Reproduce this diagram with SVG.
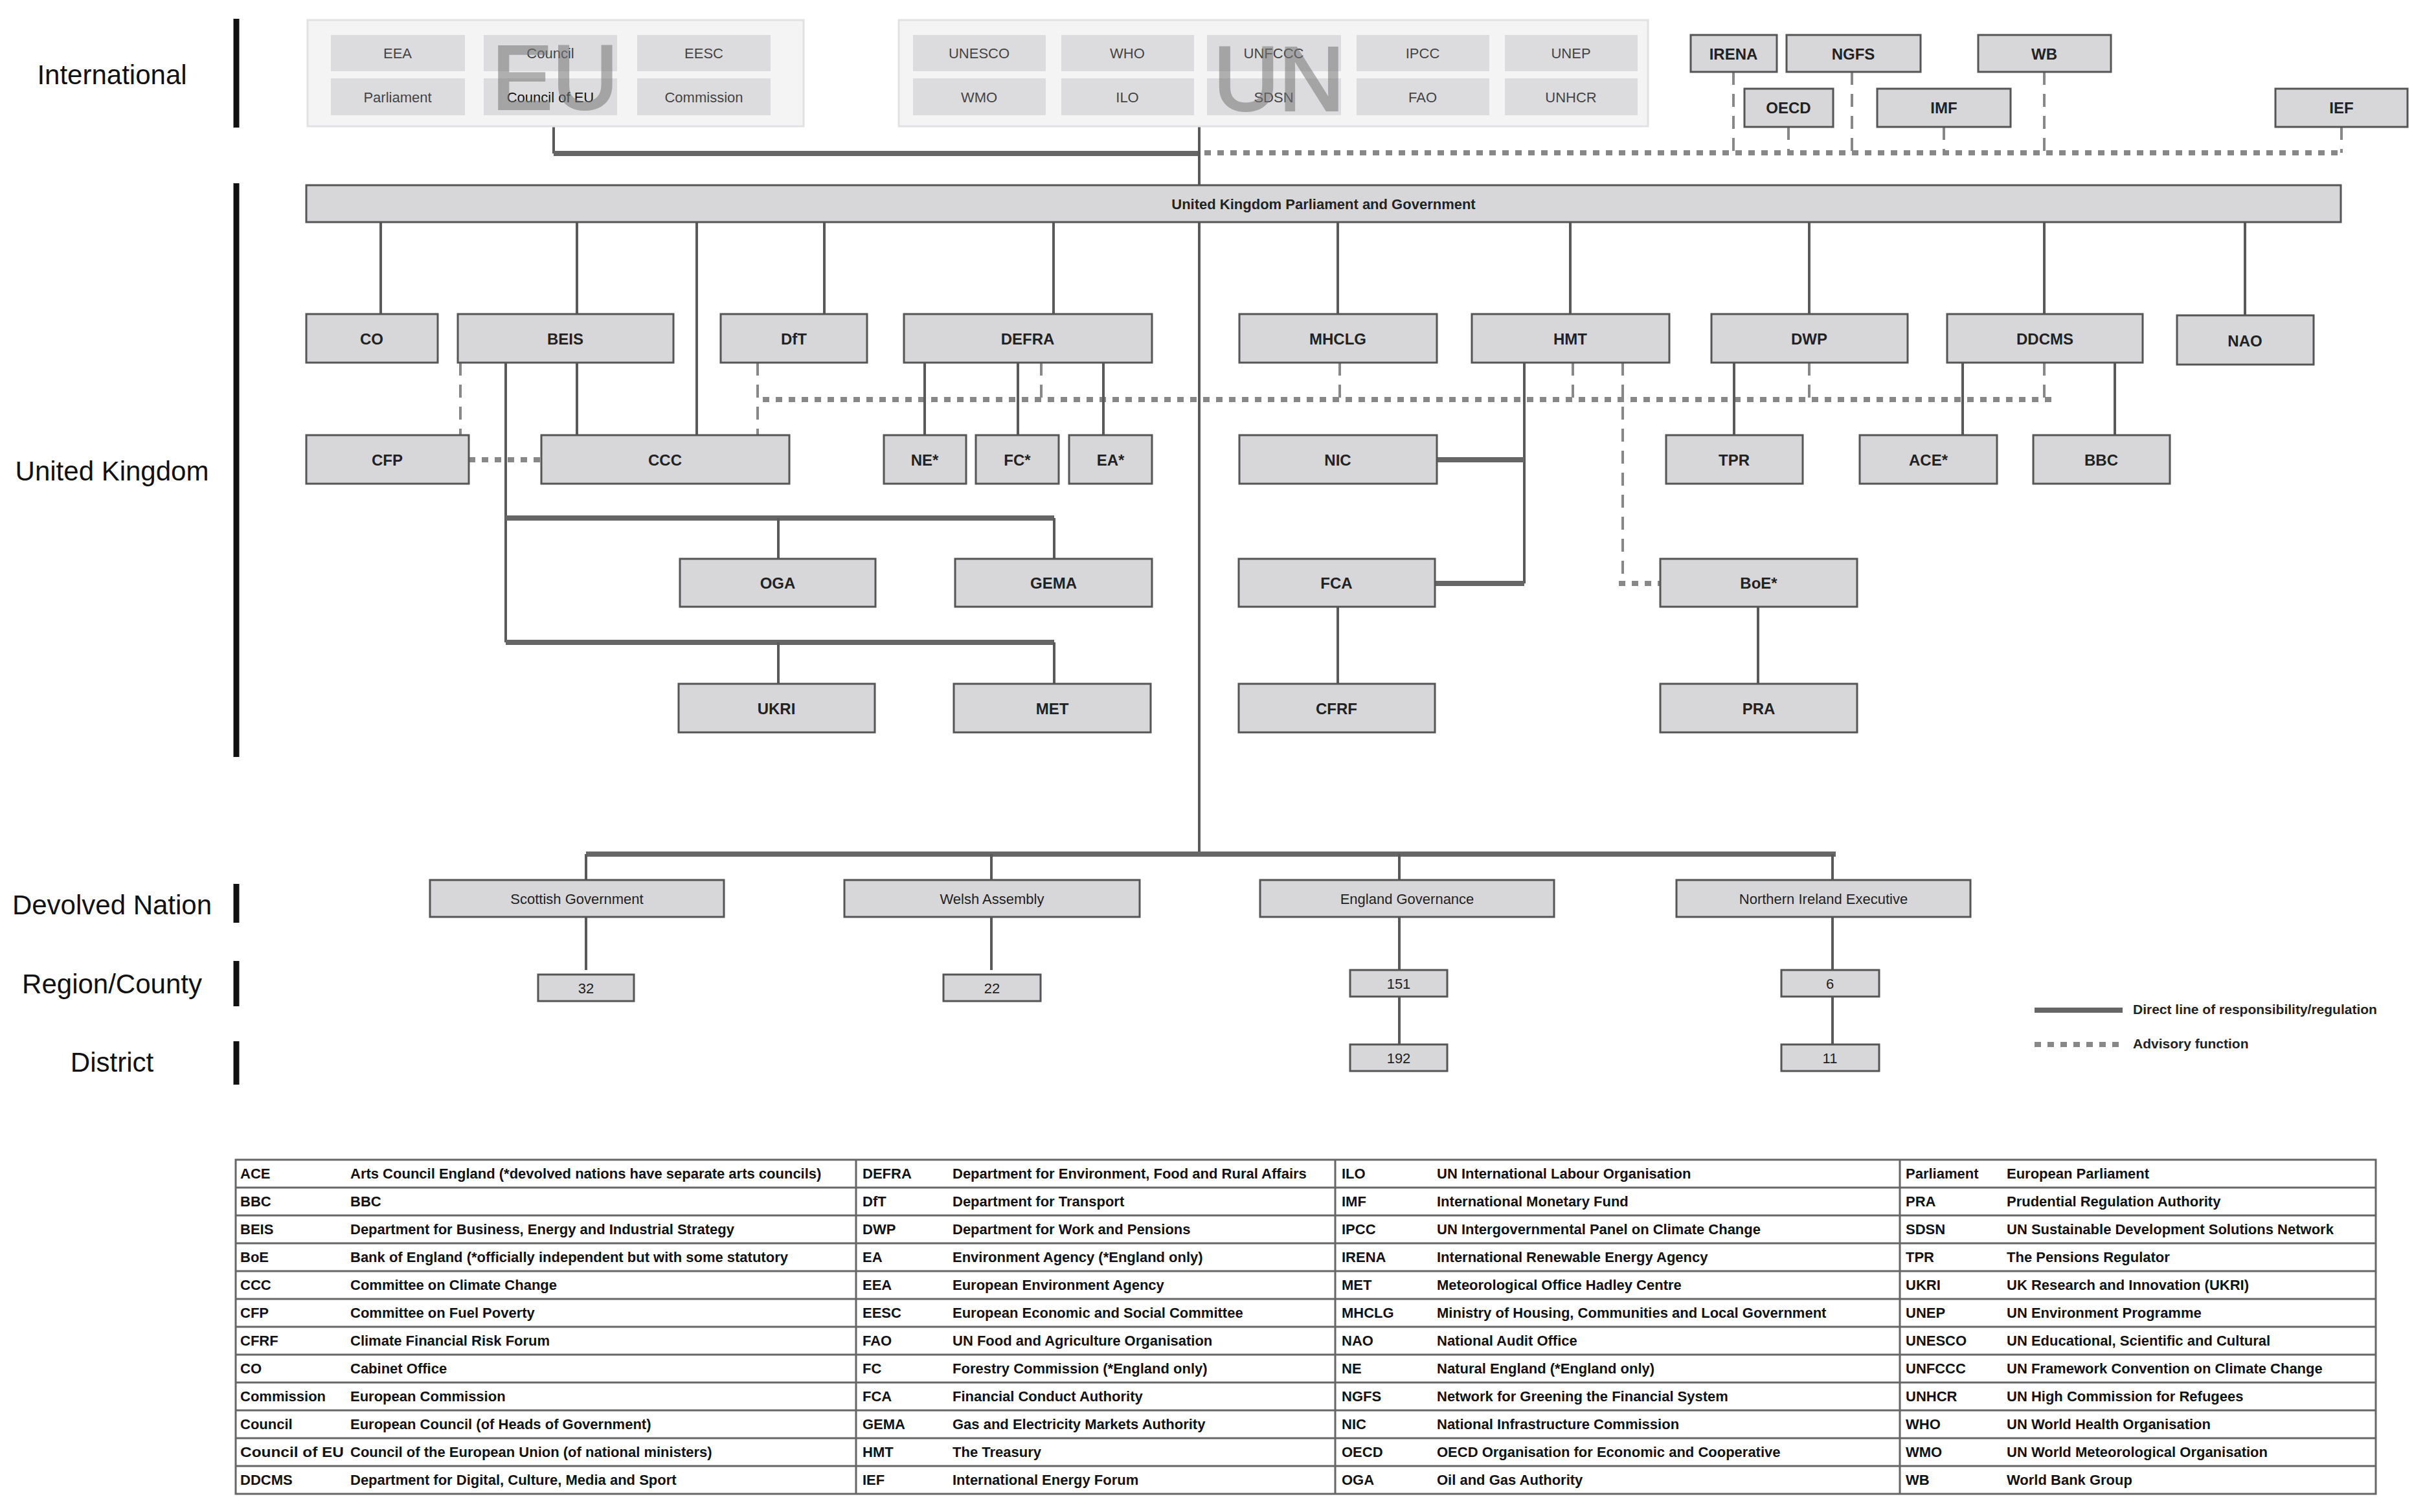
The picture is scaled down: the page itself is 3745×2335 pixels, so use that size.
<svg xmlns="http://www.w3.org/2000/svg" width="3745" height="2335" viewBox="0 0 3745 2335">
<style>
text{font-family:"Liberation Sans",Arial,sans-serif;}
.side{font-size:42px;fill:#111;text-anchor:middle;dominant-baseline:central}
.sbar{stroke:#111;stroke-width:9}
.box{fill:#d7d7d9;stroke:#555;stroke-width:3}
.cell{fill:#dcdcde}
.cont{fill:#f4f4f5;stroke:#e2e2e4;stroke-width:3}
.lbl{font-size:24px;font-weight:bold;fill:#222;text-anchor:middle;dominant-baseline:central}
.clbl{font-size:22px;fill:#444;text-anchor:middle;dominant-baseline:central}
.dlbl{font-size:22px;fill:#222;text-anchor:middle;dominant-baseline:central}
.big{font-size:140px;fill:#777;opacity:.55;text-anchor:middle;stroke:#777;stroke-width:4}
.s{stroke:#595959;stroke-width:4;fill:none}
.t{stroke:#666;stroke-width:8;fill:none}
.d{stroke:#888;stroke-width:4;stroke-dasharray:20 14;fill:none}
.dot{stroke:#888;stroke-width:8;stroke-dasharray:10 10;fill:none}
.tb{font-size:22px;font-weight:bold;fill:#111}
.grid{stroke:#666;stroke-width:3;fill:none}
.leg{font-size:21px;font-weight:bold;fill:#222;dominant-baseline:central}
</style>
<rect width="3745" height="2335" fill="#fff"/>
<g id="side-labels">
<text class="side" x="173" y="115">International</text>
<line class="sbar" x1="365" y1="29" x2="365" y2="197"/>
<text class="side" x="173" y="727">United Kingdom</text>
<line class="sbar" x1="365" y1="283" x2="365" y2="1169"/>
<text class="side" x="173" y="1397">Devolved Nation</text>
<line class="sbar" x1="365" y1="1365" x2="365" y2="1425"/>
<text class="side" x="173" y="1519">Region/County</text>
<line class="sbar" x1="365" y1="1484" x2="365" y2="1554"/>
<text class="side" x="173" y="1640">District</text>
<line class="sbar" x1="365" y1="1608" x2="365" y2="1675"/>
</g>
<g id="connectors">
<polyline class="s" points="855,195 855,237"/>
<line class="t" x1="855" y1="237" x2="1852" y2="237"/>
<line class="s" x1="1852" y1="195" x2="1852" y2="286"/>
<line class="dot" x1="1860" y1="236" x2="3616" y2="236"/>
<line class="d" x1="2677" y1="111" x2="2677" y2="236"/>
<line class="d" x1="2762" y1="196" x2="2762" y2="236"/>
<line class="d" x1="2860" y1="111" x2="2860" y2="236"/>
<line class="d" x1="3002" y1="196" x2="3002" y2="236"/>
<line class="d" x1="3157" y1="111" x2="3157" y2="236"/>
<line class="d" x1="3616" y1="196" x2="3616" y2="236"/>
<line class="s" x1="588" y1="343" x2="588" y2="485"/>
<line class="s" x1="891" y1="343" x2="891" y2="485"/>
<line class="s" x1="1076" y1="343" x2="1076" y2="672"/>
<line class="s" x1="1273" y1="343" x2="1273" y2="485"/>
<line class="s" x1="1627" y1="343" x2="1627" y2="485"/>
<line class="s" x1="1852" y1="343" x2="1852" y2="1319"/>
<line class="s" x1="2066" y1="343" x2="2066" y2="485"/>
<line class="s" x1="2425" y1="343" x2="2425" y2="485"/>
<line class="s" x1="2794" y1="343" x2="2794" y2="485"/>
<line class="s" x1="3157" y1="343" x2="3157" y2="485"/>
<line class="s" x1="3467" y1="343" x2="3467" y2="487"/>
<line class="d" x1="711" y1="560" x2="711" y2="672"/>
<line class="s" x1="891" y1="560" x2="891" y2="672"/>
<polyline class="s" points="781,560 781,992"/>
<line class="t" x1="781" y1="800" x2="1628" y2="800"/>
<line class="s" x1="1202" y1="800" x2="1202" y2="863"/>
<line class="s" x1="1628" y1="800" x2="1628" y2="863"/>
<line class="t" x1="781" y1="992" x2="1628" y2="992"/>
<line class="s" x1="1202" y1="992" x2="1202" y2="1056"/>
<line class="s" x1="1628" y1="992" x2="1628" y2="1056"/>
<line class="dot" x1="724" y1="710" x2="836" y2="710"/>
<line class="d" x1="1170" y1="560" x2="1170" y2="672"/>
<line class="dot" x1="1178" y1="617" x2="3170" y2="617"/>
<line class="s" x1="1428" y1="560" x2="1428" y2="672"/>
<line class="s" x1="1572" y1="560" x2="1572" y2="672"/>
<line class="d" x1="1608" y1="560" x2="1608" y2="617"/>
<line class="s" x1="1704" y1="560" x2="1704" y2="672"/>
<line class="d" x1="2069" y1="560" x2="2069" y2="617"/>
<line class="s" x1="2354" y1="560" x2="2354" y2="901"/>
<line class="t" x1="2219" y1="710" x2="2354" y2="710"/>
<line class="t" x1="2216" y1="901" x2="2354" y2="901"/>
<line class="d" x1="2429" y1="560" x2="2429" y2="617"/>
<polyline class="d" points="2506,560 2506,901"/>
<line class="dot" x1="2500" y1="901" x2="2564" y2="901"/>
<line class="s" x1="2066" y1="937" x2="2066" y2="1056"/>
<line class="s" x1="2715" y1="937" x2="2715" y2="1056"/>
<line class="s" x1="2678" y1="560" x2="2678" y2="672"/>
<line class="d" x1="2794" y1="560" x2="2794" y2="617"/>
<line class="s" x1="3031" y1="560" x2="3031" y2="672"/>
<line class="d" x1="3157" y1="560" x2="3157" y2="617"/>
<line class="s" x1="3266" y1="560" x2="3266" y2="672"/>
<line class="t" x1="905" y1="1319" x2="2835" y2="1319"/>
<line class="s" x1="905" y1="1319" x2="905" y2="1359"/>
<line class="s" x1="1531" y1="1319" x2="1531" y2="1359"/>
<line class="s" x1="2161" y1="1319" x2="2161" y2="1359"/>
<line class="s" x1="2830" y1="1319" x2="2830" y2="1359"/>
<line class="s" x1="905" y1="1416" x2="905" y2="1498"/>
<line class="s" x1="1531" y1="1416" x2="1531" y2="1498"/>
<line class="s" x1="2161" y1="1416" x2="2161" y2="1613"/>
<line class="s" x1="2830" y1="1416" x2="2830" y2="1613"/>
</g>
<g id="EU">
<rect class="cont" x="475" y="31" width="766" height="164"/>
<rect class="cell" x="511" y="54" width="207" height="56"/><text class="clbl" x="614" y="82">EEA</text>
<rect class="cell" x="747" y="54" width="206" height="56"/><text class="clbl" x="850" y="82">Council</text>
<rect class="cell" x="984" y="54" width="206" height="56"/><text class="clbl" x="1087" y="82">EESC</text>
<rect class="cell" x="511" y="121" width="207" height="57"/><text class="clbl" x="614" y="150">Parliament</text>
<rect class="cell" x="747" y="121" width="206" height="57"/><text class="clbl" x="850" y="150" style="fill:#111">Council of EU</text>
<rect class="cell" x="984" y="121" width="206" height="57"/><text class="clbl" x="1087" y="150">Commission</text>
<text class="big" x="857" y="168">EU</text>
</g>
<g id="UN">
<rect class="cont" x="1388" y="31" width="1157" height="164"/>
<rect class="cell" x="1410" y="54" width="205" height="56"/><text class="clbl" x="1512" y="82">UNESCO</text>
<rect class="cell" x="1639" y="54" width="205" height="56"/><text class="clbl" x="1741" y="82">WHO</text>
<rect class="cell" x="1864" y="54" width="207" height="56"/><text class="clbl" x="1967" y="82">UNFCCC</text>
<rect class="cell" x="2095" y="54" width="205" height="56"/><text class="clbl" x="2197" y="82">IPCC</text>
<rect class="cell" x="2324" y="54" width="205" height="56"/><text class="clbl" x="2426" y="82">UNEP</text>
<rect class="cell" x="1410" y="121" width="205" height="57"/><text class="clbl" x="1512" y="150">WMO</text>
<rect class="cell" x="1639" y="121" width="205" height="57"/><text class="clbl" x="1741" y="150">ILO</text>
<rect class="cell" x="1864" y="121" width="207" height="57"/><text class="clbl" x="1967" y="150">SDSN</text>
<rect class="cell" x="2095" y="121" width="205" height="57"/><text class="clbl" x="2197" y="150">FAO</text>
<rect class="cell" x="2324" y="121" width="205" height="57"/><text class="clbl" x="2426" y="150">UNHCR</text>
<text class="big" x="1975" y="170">UN</text>
</g>
<g id="IRENA"><rect class="box" x="2611" y="54" width="133" height="57"/><text class="lbl" x="2677" y="83">IRENA</text></g>
<g id="NGFS"><rect class="box" x="2759" y="54" width="207" height="57"/><text class="lbl" x="2862" y="83">NGFS</text></g>
<g id="WB"><rect class="box" x="3055" y="54" width="205" height="57"/><text class="lbl" x="3157" y="83">WB</text></g>
<g id="OECD"><rect class="box" x="2694" y="137" width="137" height="59"/><text class="lbl" x="2762" y="166">OECD</text></g>
<g id="IMF"><rect class="box" x="2899" y="137" width="206" height="59"/><text class="lbl" x="3002" y="166">IMF</text></g>
<g id="IEF"><rect class="box" x="3514" y="137" width="204" height="59"/><text class="lbl" x="3616" y="166">IEF</text></g>
<g id="UKGov"><rect class="box" x="473" y="286" width="3142" height="57"/><text class="lbl" x="2044" y="315" style="font-size:22px">United Kingdom Parliament and Government</text></g>
<g id="CO"><rect class="box" x="473" y="485" width="203" height="75"/><text class="lbl" x="574" y="523">CO</text></g>
<g id="BEIS"><rect class="box" x="707" y="485" width="333" height="75"/><text class="lbl" x="873" y="523">BEIS</text></g>
<g id="DfT"><rect class="box" x="1113" y="485" width="226" height="75"/><text class="lbl" x="1226" y="523">DfT</text></g>
<g id="DEFRA"><rect class="box" x="1396" y="485" width="383" height="75"/><text class="lbl" x="1587" y="523">DEFRA</text></g>
<g id="MHCLG"><rect class="box" x="1914" y="485" width="305" height="75"/><text class="lbl" x="2066" y="523">MHCLG</text></g>
<g id="HMT"><rect class="box" x="2273" y="485" width="305" height="75"/><text class="lbl" x="2425" y="523">HMT</text></g>
<g id="DWP"><rect class="box" x="2643" y="485" width="303" height="75"/><text class="lbl" x="2794" y="523">DWP</text></g>
<g id="DDCMS"><rect class="box" x="3007" y="485" width="302" height="75"/><text class="lbl" x="3158" y="523">DDCMS</text></g>
<g id="NAO"><rect class="box" x="3362" y="487" width="211" height="76"/><text class="lbl" x="3467" y="526">NAO</text></g>
<g id="CFP"><rect class="box" x="473" y="672" width="251" height="75"/><text class="lbl" x="598" y="710">CFP</text></g>
<g id="CCC"><rect class="box" x="836" y="672" width="383" height="75"/><text class="lbl" x="1027" y="710">CCC</text></g>
<g id="NE"><rect class="box" x="1365" y="672" width="127" height="75"/><text class="lbl" x="1428" y="710">NE*</text></g>
<g id="FC"><rect class="box" x="1507" y="672" width="128" height="75"/><text class="lbl" x="1571" y="710">FC*</text></g>
<g id="EA"><rect class="box" x="1651" y="672" width="128" height="75"/><text class="lbl" x="1715" y="710">EA*</text></g>
<g id="NIC"><rect class="box" x="1914" y="672" width="305" height="75"/><text class="lbl" x="2066" y="710">NIC</text></g>
<g id="TPR"><rect class="box" x="2573" y="672" width="211" height="75"/><text class="lbl" x="2678" y="710">TPR</text></g>
<g id="ACE"><rect class="box" x="2872" y="672" width="212" height="75"/><text class="lbl" x="2978" y="710">ACE*</text></g>
<g id="BBC"><rect class="box" x="3140" y="672" width="211" height="75"/><text class="lbl" x="3245" y="710">BBC</text></g>
<g id="OGA"><rect class="box" x="1050" y="863" width="302" height="74"/><text class="lbl" x="1201" y="900">OGA</text></g>
<g id="GEMA"><rect class="box" x="1475" y="863" width="304" height="74"/><text class="lbl" x="1627" y="900">GEMA</text></g>
<g id="FCA"><rect class="box" x="1913" y="863" width="303" height="74"/><text class="lbl" x="2064" y="900">FCA</text></g>
<g id="BoE"><rect class="box" x="2564" y="863" width="304" height="74"/><text class="lbl" x="2716" y="900">BoE*</text></g>
<g id="UKRI"><rect class="box" x="1048" y="1056" width="303" height="75"/><text class="lbl" x="1199" y="1094">UKRI</text></g>
<g id="MET"><rect class="box" x="1473" y="1056" width="304" height="75"/><text class="lbl" x="1625" y="1094">MET</text></g>
<g id="CFRF"><rect class="box" x="1913" y="1056" width="303" height="75"/><text class="lbl" x="2064" y="1094">CFRF</text></g>
<g id="PRA"><rect class="box" x="2564" y="1056" width="304" height="75"/><text class="lbl" x="2716" y="1094">PRA</text></g>
<g id="Scotland"><rect class="box" x="664" y="1359" width="454" height="57"/><text class="dlbl" x="891" y="1388">Scottish Government</text></g>
<g id="Wales"><rect class="box" x="1304" y="1359" width="456" height="57"/><text class="dlbl" x="1532" y="1388">Welsh Assembly</text></g>
<g id="England"><rect class="box" x="1946" y="1359" width="454" height="57"/><text class="dlbl" x="2173" y="1388">England Governance</text></g>
<g id="NI"><rect class="box" x="2589" y="1359" width="454" height="57"/><text class="dlbl" x="2816" y="1388">Northern Ireland Executive</text></g>
<g id="n32"><rect class="box" x="831" y="1505" width="148" height="41"/><text class="dlbl" x="905" y="1526">32</text></g>
<g id="n22"><rect class="box" x="1457" y="1505" width="150" height="41"/><text class="dlbl" x="1532" y="1526">22</text></g>
<g id="n151"><rect class="box" x="2085" y="1498" width="150" height="41"/><text class="dlbl" x="2160" y="1519">151</text></g>
<g id="n6"><rect class="box" x="2751" y="1498" width="151" height="41"/><text class="dlbl" x="2826" y="1519">6</text></g>
<g id="n192"><rect class="box" x="2085" y="1613" width="150" height="41"/><text class="dlbl" x="2160" y="1634">192</text></g>
<g id="n11"><rect class="box" x="2751" y="1613" width="151" height="41"/><text class="dlbl" x="2826" y="1634">11</text></g>
<g id="legend">
<line class="t" x1="3142" y1="1560" x2="3278" y2="1560"/>
<text class="leg" x="3294" y="1558">Direct line of responsibility/regulation</text>
<line class="dot" x1="3142" y1="1613" x2="3278" y2="1613"/>
<text class="leg" x="3294" y="1611">Advisory function</text>
</g>
<g id="table">
<rect class="grid" x="364" y="1791" width="3305" height="516"/>
<g class="grid">
<line x1="1322" y1="1791" x2="1322" y2="2307"/><line x1="2062" y1="1791" x2="2062" y2="2307"/><line x1="2934" y1="1791" x2="2934" y2="2307"/>
<line x1="364" y1="1834" x2="3669" y2="1834"/><line x1="364" y1="1877" x2="3669" y2="1877"/><line x1="364" y1="1920" x2="3669" y2="1920"/><line x1="364" y1="1963" x2="3669" y2="1963"/><line x1="364" y1="2006" x2="3669" y2="2006"/><line x1="364" y1="2049" x2="3669" y2="2049"/><line x1="364" y1="2092" x2="3669" y2="2092"/><line x1="364" y1="2135" x2="3669" y2="2135"/><line x1="364" y1="2178" x2="3669" y2="2178"/><line x1="364" y1="2221" x2="3669" y2="2221"/><line x1="364" y1="2264" x2="3669" y2="2264"/>
</g>
<g class="tb">
<text x="371" y="1820">ACE</text><text x="541" y="1820">Arts Council England  (*devolved nations have separate arts councils)</text>
<text x="371" y="1863">BBC</text><text x="541" y="1863">BBC</text>
<text x="371" y="1906">BEIS</text><text x="541" y="1906">Department for Business, Energy and Industrial Strategy</text>
<text x="371" y="1949">BoE</text><text x="541" y="1949">Bank of England (*officially independent but with some statutory</text>
<text x="371" y="1992">CCC</text><text x="541" y="1992">Committee on Climate Change</text>
<text x="371" y="2035">CFP</text><text x="541" y="2035">Committee on Fuel Poverty</text>
<text x="371" y="2078">CFRF</text><text x="541" y="2078">Climate Financial Risk Forum</text>
<text x="371" y="2121">CO</text><text x="541" y="2121">Cabinet Office</text>
<text x="371" y="2164">Commission</text><text x="541" y="2164">European Commission</text>
<text x="371" y="2207">Council</text><text x="541" y="2207">European Council (of Heads of Government)</text>
<text x="371" y="2250" textLength="160" lengthAdjust="spacingAndGlyphs">Council of EU</text><text x="541" y="2250">Council of the European Union (of national ministers)</text>
<text x="371" y="2293">DDCMS</text><text x="541" y="2293">Department for Digital, Culture, Media and Sport</text>
<text x="1332" y="1820">DEFRA</text><text x="1471" y="1820">Department for Environment, Food and Rural Affairs</text>
<text x="1332" y="1863">DfT</text><text x="1471" y="1863">Department for Transport</text>
<text x="1332" y="1906">DWP</text><text x="1471" y="1906">Department for Work and Pensions</text>
<text x="1332" y="1949">EA</text><text x="1471" y="1949">Environment Agency (*England only)</text>
<text x="1332" y="1992">EEA</text><text x="1471" y="1992">European Environment Agency</text>
<text x="1332" y="2035">EESC</text><text x="1471" y="2035">European Economic and Social Committee</text>
<text x="1332" y="2078">FAO</text><text x="1471" y="2078">UN Food and Agriculture Organisation</text>
<text x="1332" y="2121">FC</text><text x="1471" y="2121">Forestry Commission (*England only)</text>
<text x="1332" y="2164">FCA</text><text x="1471" y="2164">Financial Conduct Authority</text>
<text x="1332" y="2207">GEMA</text><text x="1471" y="2207">Gas and Electricity Markets Authority</text>
<text x="1332" y="2250">HMT</text><text x="1471" y="2250">The Treasury</text>
<text x="1332" y="2293">IEF</text><text x="1471" y="2293">International Energy Forum</text>
<text x="2072" y="1820">ILO</text><text x="2219" y="1820">UN International Labour Organisation</text>
<text x="2072" y="1863">IMF</text><text x="2219" y="1863">International Monetary Fund</text>
<text x="2072" y="1906">IPCC</text><text x="2219" y="1906">UN Intergovernmental Panel on Climate Change</text>
<text x="2072" y="1949">IRENA</text><text x="2219" y="1949">International Renewable Energy Agency</text>
<text x="2072" y="1992">MET</text><text x="2219" y="1992">Meteorological Office Hadley Centre</text>
<text x="2072" y="2035">MHCLG</text><text x="2219" y="2035">Ministry of Housing, Communities and Local Government</text>
<text x="2072" y="2078">NAO</text><text x="2219" y="2078">National Audit Office</text>
<text x="2072" y="2121">NE</text><text x="2219" y="2121">Natural England (*England only)</text>
<text x="2072" y="2164">NGFS</text><text x="2219" y="2164">Network for Greening the Financial System</text>
<text x="2072" y="2207">NIC</text><text x="2219" y="2207">National Infrastructure Commission</text>
<text x="2072" y="2250">OECD</text><text x="2219" y="2250">OECD Organisation for Economic and Cooperative</text>
<text x="2072" y="2293">OGA</text><text x="2219" y="2293">Oil and Gas Authority</text>
<text x="2943" y="1820">Parliament</text><text x="3099" y="1820">European Parliament</text>
<text x="2943" y="1863">PRA</text><text x="3099" y="1863">Prudential Regulation Authority</text>
<text x="2943" y="1906">SDSN</text><text x="3099" y="1906">UN Sustainable Development Solutions Network</text>
<text x="2943" y="1949">TPR</text><text x="3099" y="1949">The Pensions Regulator</text>
<text x="2943" y="1992">UKRI</text><text x="3099" y="1992">UK Research and Innovation (UKRI)</text>
<text x="2943" y="2035">UNEP</text><text x="3099" y="2035">UN Environment Programme</text>
<text x="2943" y="2078">UNESCO</text><text x="3099" y="2078">UN Educational, Scientific and Cultural</text>
<text x="2943" y="2121">UNFCCC</text><text x="3099" y="2121">UN Framework Convention on Climate Change</text>
<text x="2943" y="2164">UNHCR</text><text x="3099" y="2164">UN High Commission for Refugees</text>
<text x="2943" y="2207">WHO</text><text x="3099" y="2207">UN World Health Organisation</text>
<text x="2943" y="2250">WMO</text><text x="3099" y="2250">UN World Meteorological Organisation</text>
<text x="2943" y="2293">WB</text><text x="3099" y="2293">World Bank Group</text>
</g>
</g>
</svg>
